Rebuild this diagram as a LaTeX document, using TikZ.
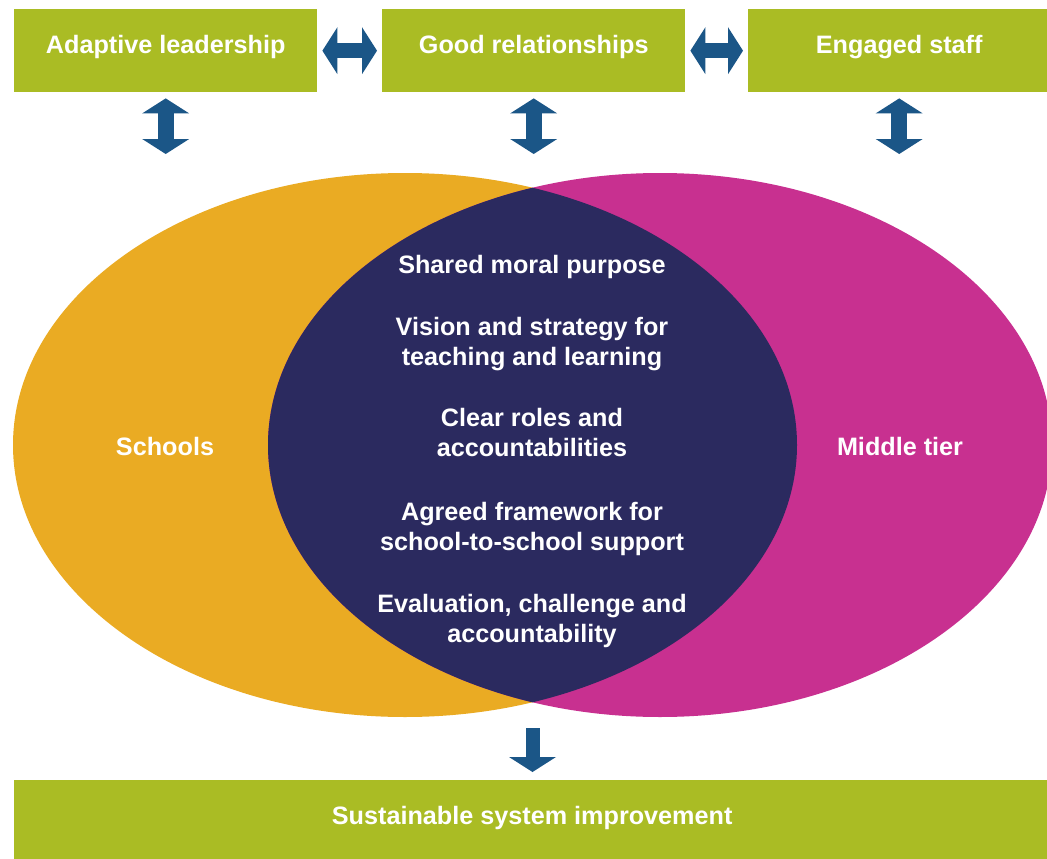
\documentclass[tikz,border=0pt]{standalone}
\usepackage{fontspec}
\setmainfont{Liberation Sans}
\usetikzlibrary{arrows.meta}

\definecolor{leaf}{RGB}{170,188,36}
\definecolor{amber}{RGB}{234,171,35}
\definecolor{berry}{RGB}{200,48,144}
\definecolor{ink}{RGB}{43,42,95}
\definecolor{steel}{RGB}{27,86,135}

% two centred lines whose first baseline is the node's base
\newcommand\twoline[2]{\begin{tabular}[t]{@{}c@{}}#1\\#2\end{tabular}}

\begin{document}
\begin{tikzpicture}[x=1pt,y=-1pt,
  every node/.style={font=\fontsize{25.2}{30.5}\selectfont\bfseries, text=white},
  greenbox/.style={rectangle, fill=leaf, inner sep=0pt, text height=18pt, text depth=13pt},
  tip/.style={Triangle[length=15pt,width=47pt,line width=0pt]},
  harrow/.style={draw=steel, line width=15pt, {Triangle[length=15pt,width=47pt,line width=0pt]}-{Triangle[length=15pt,width=47pt,line width=0pt]}, shorten <=5pt, shorten >=5pt},
  varrow/.style={draw=steel, line width=16pt, {Triangle[length=15pt,width=47pt,line width=0pt]}-{Triangle[length=15pt,width=47pt,line width=0pt]}, shorten <=6pt},
  darrow/.style={draw=steel, line width=14pt, -{Triangle[length=15pt,width=47pt,line width=0pt]}, shorten <=26pt, shorten >=8pt},
  venntext/.style={anchor=base, align=center}
]
\clip (0,0) rectangle (1047,859);
\fill[white] (0,0) rectangle (1047,859);

% top row of factors
\node[greenbox, minimum width=303pt, minimum height=83pt, anchor=north west] (lead) at (14,9) {Adaptive leadership};
\node[greenbox, minimum width=303pt, minimum height=83pt, anchor=north west] (rel) at (382,9) {Good relationships};
\node[greenbox, minimum width=302pt, minimum height=83pt, anchor=north west] (staff) at (748,9) {Engaged staff};

% outcome bar
\node[greenbox, minimum width=1036pt, minimum height=82pt, text depth=12pt, anchor=north west] (goal) at (14,780) {Sustainable system improvement};

% the two overlapping circles and their shared core
\fill[amber] (405,445) ellipse [x radius=392, y radius=272];
\fill[berry] (660,445) ellipse [x radius=392, y radius=272];
\begin{scope}
  \clip (405,445) ellipse [x radius=392, y radius=272];
  \fill[ink] (660,445) ellipse [x radius=392, y radius=272];
\end{scope}
\coordinate (meet) at (532.5,702);
\coordinate (arow) at (0,154);

\node[venntext] (schools) at (165,455) {Schools};
\node[venntext] (tier) at (900,455) {Middle tier};
\node[venntext] (purpose) at (532,273) {Shared moral purpose};
\node[venntext] (vision) at (532,335) {\twoline{Vision and strategy for}{teaching and learning}};
\node[venntext] (roles) at (532,426) {\twoline{Clear roles and}{accountabilities}};
\node[venntext] (frame) at (532,520) {\twoline{Agreed framework for}{school-to-school support}};
\node[venntext] (eval) at (532,612) {\twoline{Evaluation, challenge and}{accountability}};

% block arrows
\draw[harrow] (lead.east) -- (rel.west);
\draw[harrow] (rel.east) -- (staff.west);
\draw[varrow] (lead.south) -- (lead.south |- arow);
\draw[varrow] (rel.south) -- (rel.south |- arow);
\draw[varrow] (staff.south) -- (staff.south |- arow);
\draw[darrow] (meet) -- (meet |- goal.north);
\end{tikzpicture}
\end{document}
